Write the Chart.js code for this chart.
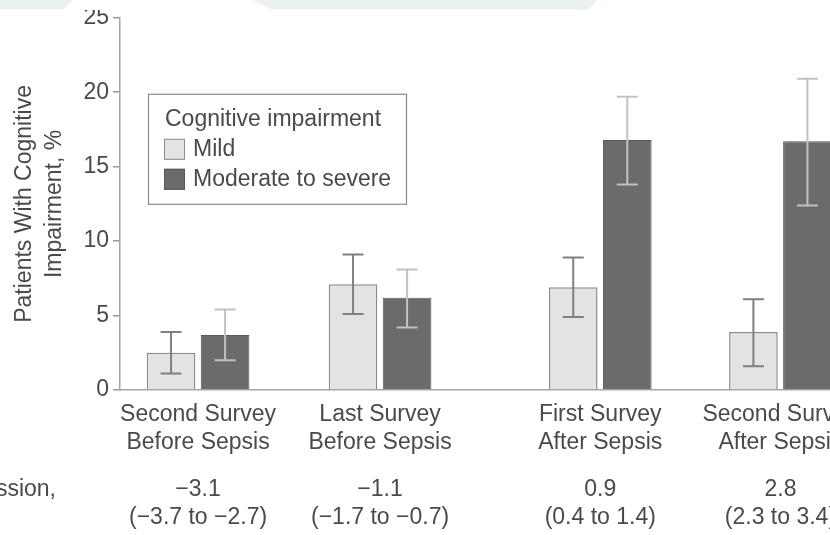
<!DOCTYPE html>
<html>
<head>
<meta charset="utf-8">
<script src="https://cdn.jsdelivr.net/npm/chart.js@4.4.1/dist/chart.umd.min.js"></script>
<style>
  html, body { margin: 0; padding: 0; background: #ffffff; overflow: hidden; }
  #wrap { position: relative; width: 830px; height: 535px; overflow: hidden; background: #fff; }
  #c { position: absolute; left: 0; top: 0; }
</style>
</head>
<body>
<div id="wrap"><canvas id="c" width="900" height="535"></canvas></div>
<script>
// ---- data ----
const categories = [
  ["Second Survey", "Before Sepsis"],
  ["Last Survey", "Before Sepsis"],
  ["First Survey", "After Sepsis"],
  ["Second Survey", "After Sepsis"]
];
const seriesNames = ["Mild", "Moderate to severe"];
const legendTitle = "Cognitive impairment";
const mildValues = [2.5, 7.1, 6.9, 3.9];
const mildLow    = [1.1, 5.1, 4.9, 1.6];
const mildHigh   = [3.9, 9.1, 8.9, 6.1];
const modValues  = [3.7, 6.2, 16.8, 16.7];
const modLow     = [2.0, 4.2, 13.8, 12.4];
const modHigh    = [5.4, 8.1, 19.7, 20.9];
const estimates   = ["\u22123.1", "\u22121.1", "0.9", "2.8"];
const estimateCIs = ["(\u22123.7 to \u22122.7)", "(\u22121.7 to \u22120.7)", "(0.4 to 1.4)", "(2.3 to 3.4)"];
const rowLabel = "ssion,";
const yTitle = ["Patients With Cognitive", "Impairment, %"];
const yTicks = [0, 5, 10, 15, 20, 25];

// ---- layout ----
const groupPos = [1, 2, 3.21, 4.2];
const FONT = "'Liberation Sans', Arial, Helvetica, sans-serif";
const TEXT = "#4a4a4a";
const LIGHT_FILL = "#e3e3e5", LIGHT_BORDER = "#8c8c8c";
const DARK_FILL = "#6b6b6d", DARK_BORDER = "#58585a";

const lows = [mildLow, modLow];
const highs = [mildHigh, modHigh];
const whiskerColors = ["#808080", "#c2c2c2"];

const errorBars = {
  id: 'errorBars',
  afterDatasetsDraw(chart) {
    const ctx = chart.ctx, y = chart.scales.y;
    chart.data.datasets.forEach((ds, di) => {
      const meta = chart.getDatasetMeta(di);
      meta.data.forEach((bar, i) => {
        const x = bar.x;
        const yl = y.getPixelForValue(lows[di][i]);
        const yh = y.getPixelForValue(highs[di][i]);
        ctx.save();
        ctx.strokeStyle = whiskerColors[di];
        ctx.lineWidth = 2;
        ctx.beginPath();
        ctx.moveTo(x, yl); ctx.lineTo(x, yh);
        ctx.moveTo(x - 10.5, yl); ctx.lineTo(x + 10.5, yl);
        ctx.moveTo(x - 10.5, yh); ctx.lineTo(x + 10.5, yh);
        ctx.stroke();
        ctx.restore();
      });
    });
  }
};

const legendBox = {
  id: 'legendBox',
  afterDraw(chart) {
    const ctx = chart.ctx, a = chart.chartArea;
    const L = a.left + 28, T = a.top + 76;
    ctx.save();
    ctx.fillStyle = '#ffffff';
    ctx.fillRect(L, T, 258, 110);
    ctx.strokeStyle = '#8a8a8a';
    ctx.lineWidth = 1.2;
    ctx.strokeRect(L + 0.5, T + 0.5, 258, 110);
    ctx.font = "23px " + FONT;
    ctx.fillStyle = TEXT;
    ctx.textBaseline = 'middle';
    ctx.textAlign = 'left';
    ctx.fillText(legendTitle, L + 17, T + 26);
    chart.data.datasets.forEach((ds, i) => {
      const sy = T + 45 + i * 30;
      ctx.fillStyle = ds.backgroundColor;
      ctx.fillRect(L + 16, sy, 21, 21);
      ctx.strokeStyle = ds.borderColor;
      ctx.lineWidth = 1;
      ctx.strokeRect(L + 16.5, sy + 0.5, 20, 20);
      ctx.fillStyle = TEXT;
      ctx.fillText(ds.label, L + 45, sy + 11);
    });
    ctx.restore();
  }
};

const statsRow = {
  id: 'statsRow',
  afterDraw(chart) {
    const ctx = chart.ctx, x = chart.scales.x, a = chart.chartArea;
    ctx.save();
    ctx.font = "23px " + FONT;
    ctx.fillStyle = TEXT;
    ctx.textBaseline = 'middle';
    ctx.textAlign = 'center';
    groupPos.forEach((p, i) => {
      const px = x.getPixelForValue(p);
      ctx.fillText(estimates[i], px, a.bottom + 100);
      ctx.fillText(estimateCIs[i], px, a.bottom + 128);
    });
    ctx.textAlign = 'right';
    ctx.fillText(rowLabel, 56, a.bottom + 100);
    ctx.restore();
  }
};

const topMask = {
  id: 'topMask',
  afterDraw(chart) {
    const ctx = chart.ctx;
    ctx.save();
    ctx.fillStyle = '#ffffff';
    ctx.fillRect(0, 0, chart.width, 10);
    ctx.fillStyle = '#e9f1f3';
    ctx.beginPath();
    ctx.moveTo(0, 0); ctx.lineTo(72, 0); ctx.lineTo(63, 9.5); ctx.lineTo(0, 9.5); ctx.closePath();
    ctx.fill();
    ctx.beginPath();
    ctx.moveTo(253, 0); ctx.lineTo(598, 0); ctx.lineTo(588, 9.5); ctx.lineTo(272, 9.5); ctx.closePath();
    ctx.fill();
    ctx.restore();
  }
};

new Chart(document.getElementById('c'), {
  type: 'bar',
  data: {
    datasets: [
      {
        label: seriesNames[0],
        data: mildValues.map((v, i) => ({ x: groupPos[i], y: v })),
        backgroundColor: LIGHT_FILL, borderColor: LIGHT_BORDER, borderWidth: 1.5,
        categoryPercentage: 0.6, barPercentage: 0.9
      },
      {
        label: seriesNames[1],
        data: modValues.map((v, i) => ({ x: groupPos[i], y: v })),
        backgroundColor: DARK_FILL, borderColor: DARK_BORDER, borderWidth: 1,
        categoryPercentage: 0.6, barPercentage: 0.9
      }
    ]
  },
  options: {
    responsive: false,
    animation: false,
    devicePixelRatio: 1,
    layout: { padding: { top: 15, left: 0, right: 0, bottom: 0 } },
    plugins: { legend: { display: false }, tooltip: { enabled: false } },
    scales: {
      x: {
        type: 'linear',
        min: 0.571, max: 4.857,
        offset: false,
        afterBuildTicks(s) { s.ticks = groupPos.map(v => ({ value: v })); },
        afterFit(s) { s.height = 145; },
        ticks: {
          autoSkip: false, maxRotation: 0, padding: 11,
          color: TEXT, font: { family: FONT, size: 23, lineHeight: 1.2 },
          callback(v, i) { return categories[i]; }
        },
        grid: { display: false, drawTicks: false },
        border: { display: true, color: '#a5a5a5', width: 1.5 }
      },
      y: {
        min: 0, max: 25,
        afterBuildTicks(s) { s.ticks = yTicks.map(v => ({ value: v })); },
        afterFit(s) { s.width = 120; },
        ticks: {
          padding: 4, color: TEXT,
          font: { family: FONT, size: 23 }
        },
        grid: { display: true, drawOnChartArea: false, drawTicks: true, tickLength: 7, color: '#9a9a9a', lineWidth: 1.5 },
        border: { display: true, color: '#a5a5a5', width: 1.5 },
        title: {
          display: true, text: yTitle, color: TEXT,
          font: { family: FONT, size: 23, lineHeight: 1.3 },
          padding: { top: 10, bottom: 0 }
        }
      }
    }
  },
  plugins: [errorBars, legendBox, statsRow, topMask]
});
</script>
</body>
</html>
